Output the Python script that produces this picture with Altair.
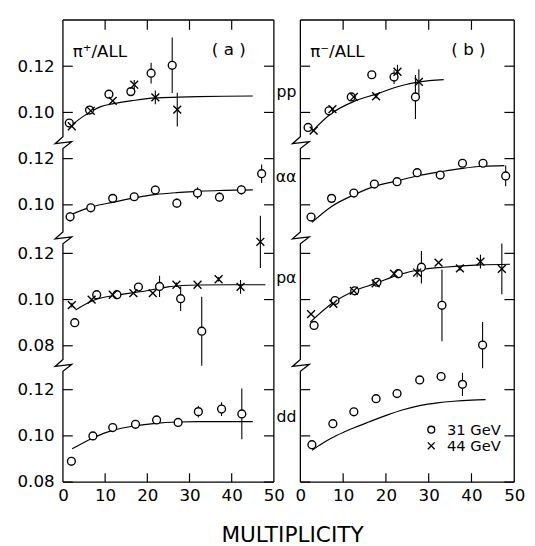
import altair as alt
import pandas as pd

FONT = "DejaVu Sans"

# ---------------- values ----------------
BANDS = ["pp", "αα", "pα", "dd"]
ENERGIES = ["31 GeV", "44 GeV"]

# panel (a)  pi+/ALL
a_pp_31_x = [1.5, 6.3, 10.9, 16.1, 20.9, 25.9]
a_pp_31_y = [0.0954, 0.1010, 0.1079, 0.1090, 0.1170, 0.1204]
a_pp_31_e = [0, 0, 0, 0.001, 0.0045, 0.012]
a_pp_44_x = [2.1, 6.6, 11.8, 16.9, 21.9, 27.1]
a_pp_44_y = [0.0940, 0.1007, 0.1050, 0.1120, 0.1065, 0.1012]
a_pp_44_e = [0, 0, 0, 0.002, 0.003, 0.0073]

a_aa_31_x = [1.7, 6.6, 11.8, 16.9, 21.9, 27.0, 31.9, 37.1, 42.3, 47.1]
a_aa_31_y = [0.0948, 0.0987, 0.1028, 0.1035, 0.1064, 0.1007, 0.1051, 0.1033, 0.1065, 0.1135]
a_aa_31_e = [0.002, 0.0015, 0.0015, 0.0015, 0.002, 0.002, 0.0025, 0.002, 0.002, 0.004]

a_pa_31_x = [2.8, 8.0, 12.8, 17.9, 22.9, 27.9, 32.9]
a_pa_31_y = [0.0900, 0.1021, 0.1021, 0.1054, 0.1057, 0.1004, 0.0863]
a_pa_31_e = [0.0015, 0, 0, 0.0015, 0.0046, 0.0053, 0.0149]
a_pa_44_x = [2.1, 6.8, 11.8, 16.7, 21.3, 26.9, 31.9, 36.9, 42.1, 46.8]
a_pa_44_y = [0.0976, 0.1000, 0.1021, 0.1028, 0.1028, 0.1064, 0.1064, 0.1088, 0.1055, 0.1250]
a_pa_44_e = [0.001, 0, 0, 0, 0, 0.001, 0, 0.001, 0.003, 0.0113]

a_dd_31_x = [2.0, 7.1, 11.8, 17.2, 22.2, 27.3, 32.1, 37.6, 42.4]
a_dd_31_y = [0.0890, 0.1000, 0.1036, 0.1050, 0.1069, 0.1058, 0.1105, 0.1116, 0.1095]
a_dd_31_e = [0.0015, 0.001, 0.0015, 0.0015, 0.0015, 0.001, 0.0025, 0.003, 0.011]

# panel (b)  pi-/ALL
b_pp_31_x = [1.8, 6.7, 11.9, 16.7, 21.9, 26.9]
b_pp_31_y = [0.0935, 0.1007, 0.1067, 0.1163, 0.1153, 0.1067]
b_pp_31_e = [0, 0, 0, 0.0015, 0.003, 0.0095]
b_pp_44_x = [3.1, 7.5, 12.5, 17.7, 22.7, 27.7]
b_pp_44_y = [0.0921, 0.1014, 0.1067, 0.1070, 0.1176, 0.1132]
b_pp_44_e = [0, 0, 0, 0.001, 0.003, 0.0055]

b_aa_31_x = [2.5, 7.3, 12.5, 17.3, 22.6, 27.3, 32.7, 37.9, 42.7, 48.0]
b_aa_31_y = [0.0947, 0.1028, 0.1051, 0.1090, 0.1100, 0.1139, 0.1129, 0.1180, 0.1180, 0.1125]
b_aa_31_e = [0, 0, 0, 0, 0, 0.0015, 0.0015, 0.0015, 0.0015, 0.0045]

b_pa_31_x = [3.2, 8.1, 12.7, 17.9, 22.9, 28.3, 33.1, 42.6]
b_pa_31_y = [0.0888, 0.0996, 0.1038, 0.1075, 0.1112, 0.1140, 0.0975, 0.0803]
b_pa_31_e = [0.0015, 0.001, 0.001, 0.001, 0.002, 0.007, 0.0155, 0.010]
b_pa_44_x = [2.5, 7.7, 12.5, 17.6, 21.9, 27.3, 32.3, 37.3, 42.1, 47.1]
b_pa_44_y = [0.0937, 0.0982, 0.1038, 0.1070, 0.1112, 0.1117, 0.1160, 0.1135, 0.1164, 0.1133]
b_pa_44_e = [0, 0, 0, 0, 0.001, 0.002, 0, 0.001, 0.003, 0.011]

b_dd_31_x = [2.7, 7.6, 12.5, 17.7, 22.6, 27.9, 32.9, 37.9]
b_dd_31_y = [0.0962, 0.1053, 0.1104, 0.1161, 0.1183, 0.1242, 0.1257, 0.1223]
b_dd_31_e = [0.0015, 0.0015, 0.0015, 0.0015, 0.0015, 0.0015, 0.0015, 0.005]

# fitted curves
a_pp_fit_x = [2.2, 5, 8.8, 12, 16.4, 21.9, 27.5, 32, 38, 45]
a_pp_fit_y = [0.0947, 0.0985, 0.1024, 0.1038, 0.1051, 0.1063, 0.1066, 0.1068, 0.1070, 0.1071]
a_aa_fit_x = [2.2, 7, 12, 17, 22, 27, 32, 37, 42, 45]
a_aa_fit_y = [0.0960, 0.0992, 0.1012, 0.1030, 0.1045, 0.1053, 0.1058, 0.1062, 0.1064, 0.1065]
a_pa_fit_x = [3.0, 7, 13.4, 18.8, 24.9, 31.9, 40, 48]
a_pa_fit_y = [0.0955, 0.0995, 0.1021, 0.1035, 0.1055, 0.1063, 0.1064, 0.1064]
a_dd_fit_x = [2.2, 7, 12, 17, 22, 27, 32, 38, 45]
a_dd_fit_y = [0.0944, 0.0990, 0.1025, 0.1043, 0.1054, 0.1060, 0.1062, 0.1062, 0.1062]

b_pp_fit_x = [2.7, 7.3, 12.7, 17.7, 22.7, 27.7, 33.5]
b_pp_fit_y = [0.0917, 0.0996, 0.1049, 0.1079, 0.1111, 0.1132, 0.1142]
b_aa_fit_x = [2.7, 7.3, 12.7, 17.3, 22.7, 27.3, 32.7, 37.9, 42.7, 47.7]
b_aa_fit_y = [0.0924, 0.0993, 0.1045, 0.1080, 0.1104, 0.1125, 0.1143, 0.1158, 0.1167, 0.1170]
b_pa_fit_x = [2.3, 7.6, 12.7, 17.6, 22.9, 28.1, 33.5, 42, 49]
b_pa_fit_y = [0.0902, 0.0986, 0.1038, 0.1070, 0.1107, 0.1130, 0.1140, 0.1150, 0.1153]
b_dd_fit_x = [2.7, 5, 7.3, 10, 12.7, 16, 20.4, 24, 28.1, 32, 35.8, 40, 43.3]
b_dd_fit_y = [0.0938, 0.0966, 0.0991, 0.1015, 0.1036, 0.1060, 0.1091, 0.1113, 0.1132, 0.1143, 0.1150, 0.1155, 0.1157]

# axis / tick values
X_LABELS = [0, 10, 20, 30, 40, 50]
X_TICKS = [10, 20, 30, 40]
Y_TICK_VALUES = {"pp": [0.12, 0.10], "αα": [0.12, 0.10], "pα": [0.12, 0.10, 0.08], "dd": [0.12, 0.10, 0.08]}
BAND_LABEL_Y = {"pp": 0.109, "αα": 0.112, "pα": 0.1095, "dd": 0.108}

# legend (drawn inside panel b)
LEGEND_X = [30.6, 30.6]
LEGEND_VALUE = [0.1027, 0.0957]   # dd-band coordinates

# ---------------- layout of the broken (stacked) axis ----------------
W_A, W_B, H = 215, 218, 471
U_MIN, U_MAX = 0.08, 0.28
OFF = {"pp": 0.140, "αα": 0.100, "pα": 0.059, "dd": 0.0}
BREAKS = [0.2269, 0.1857, 0.1305]
ZIG_DX = [0, -1.85, 2.08, 0]
ZIG_DU = [0.00255, -0.00043, 0.00043, -0.00255]
CROSS = "M-1,-1L1,1M1,-1L-1,1"


def points_df(panel):
    g = globals()
    rows = []
    for band, key in zip(BANDS, ["pp", "aa", "pa", "dd"]):
        for en, ek in zip(ENERGIES, ["31", "44"]):
            name = f"{panel}_{key}_{ek}"
            if name + "_x" not in g:
                continue
            for x, y, e in zip(g[name + "_x"], g[name + "_y"], g[name + "_e"]):
                u = y + OFF[band]
                rows.append({"band": band, "energy": en, "x": x, "value": y,
                             "u": u, "lo": u - e, "hi": u + e})
    return pd.DataFrame(rows)


def fits_df(panel):
    g = globals()
    rows = []
    for band, key in zip(BANDS, ["pp", "aa", "pa", "dd"]):
        for x, y in zip(g[f"{panel}_{key}_fit_x"], g[f"{panel}_{key}_fit_y"]):
            rows.append({"band": band, "x": x, "u": y + OFF[band]})
    return pd.DataFrame(rows)


def ytick_df():
    rows = []
    for band in BANDS:
        for v in Y_TICK_VALUES[band]:
            rows.append({"band": band, "u": round(v + OFF[band], 4)})
    return pd.DataFrame(rows)


def left_path_df():
    pts = [(0, U_MAX)]
    for b in BREAKS:
        for dx, du in zip(ZIG_DX, ZIG_DU):
            pts.append((dx, b + du))
    pts.append((0, U_MIN))
    return pd.DataFrame({"x": [p[0] for p in pts], "u": [p[1] for p in pts],
                         "o": list(range(len(pts)))})


XS = alt.Scale(domain=[0, 50], nice=False, zero=False)
YS = alt.Scale(domain=[U_MIN, U_MAX], nice=False, zero=False)
label_expr = ("format(datum.value - (datum.value > %s ? %s : datum.value > %s ? %s : "
              "datum.value > %s ? %s : 0), '.2f')" %
              (BREAKS[0], OFF["pp"], BREAKS[1], OFF["αα"], BREAKS[2], OFF["pα"]))

X_AXIS = alt.Axis(values=X_LABELS, ticks=False, domain=False, grid=False,
                  labelFlush=False, labelFont=FONT, labelFontSize=17,
                  labelColor="black", labelPadding=6, title=None, format="d")
Y_AXIS_VALUES = sorted([round(v + OFF[b], 4) for b in BANDS for v in Y_TICK_VALUES[b]])
Y_AXIS_A = alt.Axis(values=Y_AXIS_VALUES, labelExpr=label_expr,
                    ticks=False, domain=False, grid=False, labelFont=FONT,
                    labelFontSize=17, labelColor="black", labelPadding=9,
                    labelFlush=False, labelOverlap=False, title=None)
Y_AXIS_B = alt.Axis(values=Y_AXIS_VALUES, labels=False, ticks=False, domain=False,
                    grid=False, title=None)

shape_enc = alt.Shape("energy:N",
                      scale=alt.Scale(domain=ENERGIES, range=["circle", CROSS]),
                      legend=None)


def panel(p, width, title_txt, tag, y_axis, band_labels, legend):
    def X(f):
        return alt.X(f, scale=XS, axis=X_AXIS)

    def Y(f):
        return alt.Y(f, scale=YS, axis=y_axis)

    pts = points_df(p)
    fits = fits_df(p)
    yt = ytick_df()
    frame = pd.DataFrame({"x": [0, 0, 50], "x2": [50, 50, 50],
                          "u": [U_MAX, U_MIN, U_MIN], "u2": [U_MAX, U_MIN, U_MAX]})

    frame_layer = alt.Chart(frame).mark_rule(color="black", strokeWidth=1.3).encode(
        x=X("x:Q"), x2="x2:Q", y=Y("u:Q"), y2="u2:Q")
    left = alt.Chart(left_path_df()).mark_line(color="black", strokeWidth=1.3).encode(
        x=X("x:Q"), y=Y("u:Q"), order="o:Q")

    lt = alt.Chart(yt).mark_rule(color="black", strokeWidth=1.2).encode(
        x=alt.value(0), x2=alt.value(10), y=Y("u:Q"))
    rt = alt.Chart(yt).mark_rule(color="black", strokeWidth=1.2).encode(
        x=alt.value(width - 10), x2=alt.value(width), y=Y("u:Q"))
    xt = pd.DataFrame({"x": X_TICKS})
    tt = alt.Chart(xt).mark_rule(color="black", strokeWidth=1.2).encode(
        x=X("x:Q"), y=alt.value(0), y2=alt.value(10))
    bt = alt.Chart(xt).mark_rule(color="black", strokeWidth=1.2).encode(
        x=X("x:Q"), y=alt.value(H - 9), y2=alt.value(H))

    err = alt.Chart(pts[pts["hi"] > pts["lo"]]).mark_rule(color="black", strokeWidth=1.1).encode(
        x=X("x:Q"), y=Y("lo:Q"), y2="hi:Q")
    curve = alt.Chart(fits).mark_line(color="black", strokeWidth=1.2, interpolate="monotone").encode(
        x=X("x:Q"), y=Y("u:Q"), detail="band:N")
    marks = alt.Chart(pts).mark_point(filled=True, fill="white", stroke="black",
                                      strokeWidth=1.4, size=64, opacity=1).encode(
        x=X("x:Q"), y=Y("u:Q"), shape=shape_enc)

    ttl = pd.DataFrame({"x": [2.3, 35.3], "u": [0.2662, 0.2668], "t": [title_txt, tag]})
    titles = alt.Chart(ttl).mark_text(align="left", baseline="middle", font=FONT,
                                      fontSize=17, color="black").encode(
        x=X("x:Q"), y=Y("u:Q"), text="t:N")

    layers = [err, curve, frame_layer, left, lt, rt, tt, bt, marks, titles]
    if band_labels:
        bl = pd.DataFrame({"band": BANDS, "u": [BAND_LABEL_Y[b] + OFF[b] for b in BANDS]})
        layers.append(alt.Chart(bl).mark_text(align="right", baseline="middle", font=FONT,
                                              fontSize=16, color="black").encode(
            x=alt.value(-4), y=Y("u:Q"), text="band:N"))
    if legend:
        lg = pd.DataFrame({"energy": ENERGIES, "x": LEGEND_X,
                           "u": [v + OFF["dd"] for v in LEGEND_VALUE]})
        layers.append(alt.Chart(lg).mark_point(filled=True, fill="white", stroke="black",
                                               strokeWidth=1.4, size=49, opacity=1).encode(
            x=X("x:Q"), y=Y("u:Q"), shape=shape_enc))
        layers.append(alt.Chart(lg).mark_text(align="left", baseline="middle", dx=16,
                                              font=FONT, fontSize=15, color="black").encode(
            x=X("x:Q"), y=Y("u:Q"), text="energy:N"))
    return alt.layer(*layers).properties(width=width, height=H)


pa = panel("a", W_A, "π⁺/ALL", "( a )", Y_AXIS_A, False, False)
pb = panel("b", W_B, "π⁻/ALL", "( b )", Y_AXIS_B, True, True)

chart = alt.hconcat(pa, pb, spacing=27, bounds="flush").properties(
    padding={"left": 9, "top": 4, "right": 2, "bottom": 0},
    title=alt.Title("MULTIPLICITY", orient="bottom", anchor="middle", font=FONT,
                    fontSize=22, fontWeight="normal", color="black", offset=22, dx=22),
).configure_view(stroke=None)

chart.save("out.html", embed_options={"renderer": "svg", "actions": False})
